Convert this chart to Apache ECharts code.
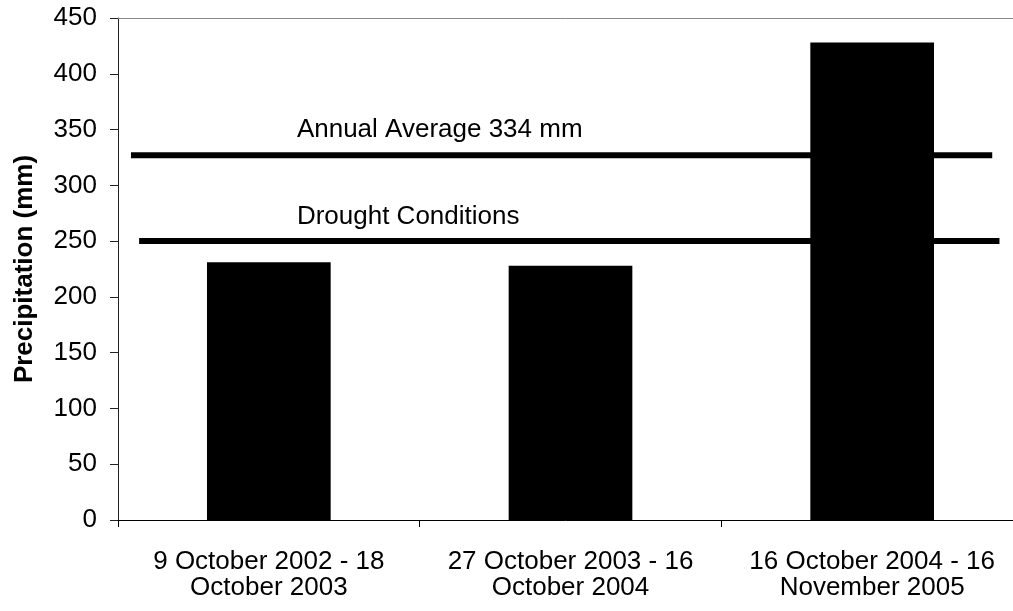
<!DOCTYPE html>
<html>
<head>
<meta charset="utf-8">
<script src="https://cdn.jsdelivr.net/npm/echarts@6/dist/echarts.min.js"></script>
<style>
html,body{margin:0;padding:0;background:#fff;}
#chart{width:1013px;height:611px;}
</style>
</head>
<body>
<div id="chart"></div>
<script>
// Data
var categories = ['9 October 2002 - 18\nOctober 2003', '27 October 2003 - 16\nOctober 2004', '16 October 2004 - 16\nNovember 2005'];
var precipitation = [231, 228, 428];
var yTicks = [0, 50, 100, 150, 200, 250, 300, 350, 400, 450];
// reference lines: [startCategoryPos, endCategoryPos, value]
var annualAverageLine = [[0.043, 327], [2.898, 327]];
var droughtLine = [[0.07, 250], [2.922, 250]];
// annotation texts and their anchor (category position, value)
var annotations = [
  { name: 'Annual Average 334 mm', value: [0.593, 350] },
  { name: 'Drought Conditions', value: [0.593, 272] }
];

var FONT = '"Liberation Sans", Arial, sans-serif';
var chart = echarts.init(document.getElementById('chart'), null, { renderer: 'canvas' });
chart.setOption({
  animation: false,
  backgroundColor: '#fff',
  grid: { left: 118, top: 18, width: 905, bottom: 91, containLabel: false, outerBoundsMode: 'none' },
  xAxis: [
    {
      type: 'category',
      data: categories,
      position: 'bottom',
      axisLine: { show: true, lineStyle: { color: '#000', width: 1 } },
      axisTick: { show: true, length: 7, lineStyle: { color: '#000' } },
      axisLabel: { color: '#000', fontSize: 26, fontFamily: FONT, margin: 29, lineHeight: 26, interval: 0 },
      splitLine: { show: false }
    },
    {
      type: 'value',
      min: 0, max: 3,
      position: 'top',
      axisLine: { show: true, onZero: false, lineStyle: { color: '#888', width: 1 } },
      axisTick: { show: false },
      axisLabel: { show: false },
      splitLine: { show: false }
    }
  ],
  yAxis: {
    type: 'value',
    min: yTicks[0], max: yTicks[yTicks.length - 1], interval: 50,
    name: 'Precipitation (mm)',
    nameLocation: 'middle',
    nameGap: 80,
    nameTextStyle: { color: '#000', fontSize: 26, fontWeight: 'bold', fontFamily: FONT },
    axisLine: { show: true, lineStyle: { color: '#222', width: 1 } },
    axisTick: { show: true, length: 8, lineStyle: { color: '#222' } },
    axisLabel: { color: '#000', fontSize: 26, fontFamily: FONT, margin: 21 },
    splitLine: { show: false }
  },
  series: [
    {
      type: 'bar',
      xAxisIndex: 0,
      data: precipitation,
      barWidth: '41%',
      itemStyle: { color: '#000' }
    },
    {
      type: 'line',
      xAxisIndex: 1,
      data: annualAverageLine,
      symbol: 'none',
      lineStyle: { color: '#000', width: 6 },
      z: 5
    },
    {
      type: 'line',
      xAxisIndex: 1,
      data: droughtLine,
      symbol: 'none',
      lineStyle: { color: '#000', width: 6 },
      z: 5
    },
    {
      type: 'scatter',
      xAxisIndex: 1,
      data: annotations,
      symbolSize: 0,
      itemStyle: { opacity: 1 },
      label: {
        show: true, position: 'right', distance: 0,
        formatter: function (p) { return p.name; },
        color: '#000', opacity: 1, fontSize: 26, fontFamily: FONT
      },
      z: 6
    }
  ]
});
</script>
</body>
</html>
